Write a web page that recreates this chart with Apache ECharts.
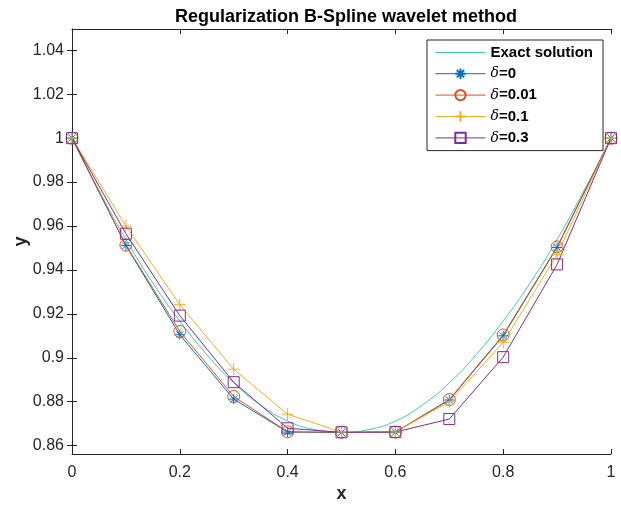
<!DOCTYPE html>
<html>
<head>
<meta charset="utf-8">
<script src="https://cdn.jsdelivr.net/npm/echarts@6/dist/echarts.min.js"></script>
<style>html,body{margin:0;padding:0;background:#fff}#c{width:621px;height:508px}</style>
</head>
<body>
<div id="c"></div>
<script>
// Data
var xNodes = [0, 0.1, 0.2, 0.3, 0.4, 0.5, 0.6, 0.7, 0.8, 0.9, 1];
var exactX = [0, 0.05, 0.1, 0.15, 0.2, 0.25, 0.3, 0.35, 0.4, 0.45, 0.5, 0.55, 0.6, 0.65, 0.7, 0.75, 0.8, 0.85, 0.9, 0.95, 1];
var exactY = [1, 0.9762, 0.9539, 0.9341, 0.9168, 0.9015, 0.8886, 0.8785, 0.8712, 0.8673, 0.8660, 0.8673, 0.8712, 0.8785, 0.8886, 0.9015, 0.9168, 0.9341, 0.9539, 0.9762, 1];
var d0   = [1, 0.9511, 0.9105, 0.8812, 0.8662, 0.8660, 0.8661, 0.8808, 0.9100, 0.9502, 1];
var d001 = [1, 0.9513, 0.9120, 0.8824, 0.8663, 0.8661, 0.8662, 0.8810, 0.9104, 0.9505, 1];
var d01  = [1, 0.9600, 0.9242, 0.8948, 0.8743, 0.8662, 0.8662, 0.8800, 0.9070, 0.9470, 1];
var d03  = [1, 0.9565, 0.9192, 0.8889, 0.8679, 0.8661, 0.8662, 0.8721, 0.9003, 0.9425, 1];
var yTicks = [0.86, 0.88, 0.9, 0.92, 0.94, 0.96, 0.98, 1, 1.02, 1.04];
var xTicks = [0, 0.2, 0.4, 0.6, 0.8, 1];
var names = ['Exact solution', 'δ=0', 'δ=0.01', 'δ=0.1', 'δ=0.3'];

function pairs(xs, ys) { return xs.map(function (x, i) { return [x, ys[i]]; }); }

var FONT = 'Liberation Sans, Arial, sans-serif';
var AX = '#262626';
var asterisk = 'path://M5,0L5,10M0,5L10,5M1.5,1.5L8.5,8.5M1.5,8.5L8.5,1.5';
var plus = 'path://M5,0L5,10M0,5L10,5';
var COLORS = ['#3CC8C0', '#0072BD', '#D95319', '#EDB120', '#7E2F8E'];

function markSeries(name, data, color, symbol, size) {
  return {
    name: name, type: 'line', data: data, xAxisIndex: 0, yAxisIndex: 0,
    symbol: symbol, symbolSize: size, showSymbol: true,
    lineStyle: { color: color, width: 1 },
    itemStyle: { color: 'none', borderColor: color, borderWidth: 1 },
    emphasis: { disabled: true }, animation: false
  };
}

var chart = echarts.init(document.getElementById('c'));
var fmtTick = function (v) { return String(Math.round(v * 100) / 100); };
var tickStyle = function (vals) {
  return { show: true, inside: true, length: 5, lineStyle: { color: AX }, customValues: vals };
};
var axisLine = { show: true, lineStyle: { color: AX, width: 1 } };
var labelStyle = { fontFamily: FONT, fontSize: 16, color: AX };

chart.setOption({
  animation: false,
  backgroundColor: '#fff',
  title: {
    text: 'Regularization B-Spline wavelet method',
    left: 341, top: 3, textAlign: 'center',
    textStyle: { fontFamily: FONT, fontSize: 18, fontWeight: 'bold', color: '#000' }
  },
  grid: { left: 72, right: 10, top: 29, bottom: 54, show: false, containLabel: false, outerBoundsMode: 'none' },
  legend: {
    data: [
      { name: names[0], icon: 'path://M0,0L50,0L50,1L0,1Z', itemStyle: { color: COLORS[0] } },
      names[1], names[2], names[3], names[4]
    ],
    orient: 'vertical',
    left: 427, top: 40,
    padding: [5, 10, 5, 8],
    itemGap: 6,
    itemWidth: 50, itemHeight: 13,
    lineStyle: { width: 1 },
    borderColor: AX, borderWidth: 1, backgroundColor: '#fff',
    selectedMode: false,
    formatter: function (n) {
      if (n.charAt(0) === 'δ') return '{i|δ}{b|' + n.slice(1) + '}';
      return '{b|' + n + '}';
    },
    textStyle: {
      rich: {
        b: { fontFamily: FONT, fontSize: 15, fontWeight: 'bold', color: '#000' },
        i: { fontFamily: 'DejaVu Serif, serif', fontSize: 14, fontStyle: 'italic', color: '#000' }
      }
    }
  },
  xAxis: [
    {
      type: 'value', min: 0, max: 1, interval: 0.2, position: 'bottom',
      name: 'x', nameLocation: 'middle', nameGap: 31, nameMoveOverlap: false,
      nameTextStyle: { fontFamily: FONT, fontSize: 18, fontWeight: 'bold', color: AX },
      axisLine: axisLine, splitLine: { show: false },
      axisLabel: Object.assign({ margin: 11, formatter: fmtTick, customValues: xTicks }, labelStyle),
      axisTick: tickStyle(xTicks)
    },
    {
      type: 'value', min: 0, max: 1, interval: 0.2, position: 'top',
      axisLine: axisLine, splitLine: { show: false },
      axisLabel: { show: false }, axisTick: tickStyle(xTicks)
    }
  ],
  yAxis: [
    {
      type: 'value', min: 0.8562, max: 1.0497, position: 'left',
      name: 'y', nameLocation: 'middle', nameGap: 42, nameRotate: 90, nameMoveOverlap: false,
      nameTextStyle: { fontFamily: FONT, fontSize: 18, fontWeight: 'bold', color: AX },
      axisLine: axisLine, splitLine: { show: false },
      axisLabel: Object.assign({ margin: 8, formatter: fmtTick, customValues: yTicks }, labelStyle),
      axisTick: tickStyle(yTicks)
    },
    {
      type: 'value', min: 0.8562, max: 1.0497, position: 'right',
      axisLine: axisLine, splitLine: { show: false },
      axisLabel: { show: false }, axisTick: tickStyle(yTicks)
    }
  ],
  series: [
    {
      name: names[0], type: 'line', data: pairs(exactX, exactY), smooth: true,
      symbol: 'none', lineStyle: { color: COLORS[0], width: 1 },
      itemStyle: { color: COLORS[0] }, emphasis: { disabled: true }
    },
    markSeries(names[1], pairs(xNodes, d0), COLORS[1], asterisk, 10),
    markSeries(names[2], pairs(xNodes, d001), COLORS[2], 'circle', 12),
    markSeries(names[3], pairs(xNodes, d01), COLORS[3], plus, 12),
    markSeries(names[4], pairs(xNodes, d03), COLORS[4], 'rect', 11)
  ]
});
</script>
</body>
</html>
